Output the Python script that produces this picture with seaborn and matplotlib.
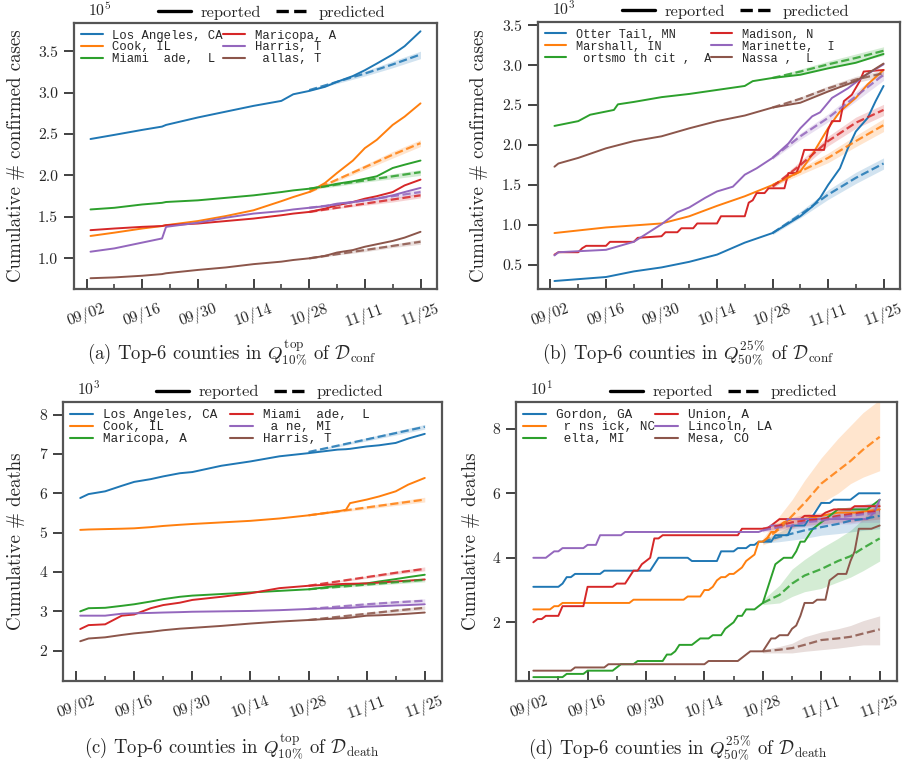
import pandas as pd
import matplotlib
matplotlib.use("Agg")
import matplotlib.pyplot as plt
import matplotlib.dates as mdates
from matplotlib.ticker import FormatStrFormatter, FixedLocator
from matplotlib.lines import Line2D
from matplotlib.font_manager import FontProperties
import seaborn as sns

YEAR = 2020
COLORS = ["#1f77b4", "#ff7f0e", "#2ca02c", "#d62728", "#9467bd", "#8c564b"]
TICK_MD = ["09/02", "09/16", "09/30", "10/14", "10/28", "11/11", "11/25"]
MINOR_MD = ["09/09", "09/23", "10/07", "10/21", "11/04", "11/18"]
PRED_MD = ["10/28", "11/04", "11/11", "11/18", "11/25"]

# ---------------- panel (a): confirmed cases, x 1e5 ----------------
A_NAMES = ["Los Angeles, CA", "Cook, IL", "Miami  ade,  L", "Maricopa, A", "Harris, T", " allas, T"]
A_DATES = ["09/03", "09/09", "09/16", "09/21", "09/22", "09/30", "10/07", "10/14", "10/21", "10/24",
           "10/28", "11/01", "11/04", "11/08", "11/11", "11/14", "11/18", "11/21", "11/25"]
A_LA = [2.44, 2.49, 2.55, 2.59, 2.61, 2.70, 2.77, 2.84, 2.90, 2.98, 3.02, 3.07, 3.13, 3.20, 3.27, 3.35, 3.46, 3.56, 3.74]
A_COOK = [1.27, 1.31, 1.36, 1.39, 1.40, 1.45, 1.51, 1.58, 1.69, 1.74, 1.80, 1.91, 2.03, 2.18, 2.33, 2.43, 2.61, 2.71, 2.87]
A_MIAMI = [1.59, 1.61, 1.65, 1.67, 1.68, 1.70, 1.73, 1.76, 1.80, 1.82, 1.84, 1.87, 1.90, 1.93, 1.96, 1.99, 2.09, 2.13, 2.18]
A_MARICOPA = [1.34, 1.36, 1.38, 1.39, 1.40, 1.42, 1.45, 1.48, 1.52, 1.54, 1.56, 1.60, 1.64, 1.68, 1.72, 1.75, 1.80, 1.88, 1.95]
A_HARRIS = [1.08, 1.12, 1.19, 1.24, 1.38, 1.43, 1.49, 1.54, 1.57, 1.59, 1.61, 1.63, 1.66, 1.68, 1.70, 1.72, 1.76, 1.80, 1.85]
A_DALLAS = [0.76, 0.77, 0.79, 0.81, 0.82, 0.86, 0.89, 0.93, 0.96, 0.98, 1.00, 1.03, 1.07, 1.10, 1.14, 1.17, 1.21, 1.25, 1.32]
A_PRED = [[3.03, 3.13, 3.23, 3.34, 3.46], [1.80, 1.95, 2.10, 2.25, 2.39], [1.84, 1.89, 1.94, 1.99, 2.04],
          [1.56, 1.61, 1.66, 1.71, 1.76], [1.61, 1.65, 1.70, 1.75, 1.80], [1.00, 1.05, 1.10, 1.15, 1.20]]
A_LO = [[3.02, 3.11, 3.20, 3.30, 3.41], [1.79, 1.93, 2.07, 2.21, 2.35], [1.83, 1.87, 1.92, 1.96, 2.00],
        [1.55, 1.60, 1.64, 1.68, 1.73], [1.60, 1.64, 1.68, 1.72, 1.77], [0.99, 1.04, 1.08, 1.13, 1.17]]
A_HI = [[3.04, 3.15, 3.26, 3.38, 3.50], [1.81, 1.97, 2.13, 2.29, 2.43], [1.85, 1.91, 1.96, 2.02, 2.07],
        [1.57, 1.62, 1.68, 1.73, 1.79], [1.62, 1.66, 1.72, 1.78, 1.83], [1.01, 1.06, 1.12, 1.17, 1.23]]

# ---------------- panel (b): confirmed cases, x 1e3 ----------------
B_NAMES = ["Otter Tail, MN", "Marshall, IN", " ortsmo th cit ,  A", "Madison, N", "Marinette,  I", "Nassa ,  L"]
B_OTTER_D = ["09/03", "09/16", "09/23", "09/30", "10/07", "10/14", "10/21", "10/28", "11/04", "11/07", "11/09",
             "11/11", "11/14", "11/16", "11/18", "11/21", "11/23", "11/25"]
B_OTTER_V = [0.30, 0.35, 0.42, 0.47, 0.54, 0.63, 0.78, 0.90, 1.11, 1.23, 1.34, 1.50, 1.71, 1.96, 2.17, 2.34, 2.55, 2.74]
B_MARSHALL_D = ["09/03", "09/16", "09/30", "10/07", "10/14", "10/21", "10/28", "11/04", "11/07", "11/11", "11/14",
                "11/18", "11/21", "11/25"]
B_MARSHALL_V = [0.90, 0.97, 1.02, 1.11, 1.24, 1.36, 1.50, 1.67, 1.88, 2.21, 2.42, 2.59, 2.76, 2.94]
B_PORTS_D = ["09/03", "09/09", "09/12", "09/16", "09/18", "09/19", "09/23", "09/30", "10/07", "10/14", "10/21",
             "10/23", "10/28", "11/04", "11/11", "11/18", "11/25"]
B_PORTS_V = [2.24, 2.30, 2.38, 2.42, 2.44, 2.51, 2.54, 2.60, 2.64, 2.69, 2.74, 2.80, 2.84, 2.88, 2.96, 3.03, 3.14]
B_MADISON_D = ["09/03", "09/04", "09/09", "09/10", "09/11", "09/16", "09/17", "09/23", "09/24", "09/30",
               "10/01", "10/04", "10/05", "10/08", "10/09", "10/14", "10/15", "10/21", "10/22", "10/23",
               "10/24", "10/26", "10/27", "10/31", "11/01", "11/03", "11/04", "11/05", "11/10", "11/11",
               "11/12", "11/14", "11/15", "11/17", "11/19", "11/20", "11/25"]
B_MADISON_V = [0.63, 0.66, 0.66, 0.71, 0.74, 0.74, 0.79, 0.79, 0.84, 0.86, 0.91, 0.91, 0.96, 0.96, 1.02,
               1.02, 1.11, 1.11, 1.28, 1.31, 1.40, 1.40, 1.46, 1.46, 1.65, 1.65, 1.77, 1.94, 1.94, 2.19,
               2.30, 2.30, 2.55, 2.63, 2.80, 2.92, 2.94]
B_MARINETTE_D = ["09/03", "09/04", "09/16", "09/23", "09/30", "10/04", "10/07", "10/11", "10/14", "10/18", "10/21",
                 "10/24", "10/28", "11/01", "11/04", "11/07", "11/09", "11/12", "11/16", "11/20", "11/25"]
B_MARINETTE_V = [0.62, 0.66, 0.69, 0.79, 1.01, 1.16, 1.22, 1.34, 1.42, 1.48, 1.63, 1.71, 1.84, 2.02, 2.21,
                 2.36, 2.41, 2.59, 2.71, 2.86, 3.01]
B_NASSAU_D = ["09/03", "09/04", "09/09", "09/16", "09/23", "09/30", "10/07", "10/14", "10/21", "10/28", "11/04",
              "11/11", "11/18", "11/25"]
B_NASSAU_V = [1.73, 1.77, 1.84, 1.96, 2.05, 2.11, 2.21, 2.30, 2.37, 2.47, 2.53, 2.67, 2.80, 3.02]
B_PRED = [[0.90, 1.13, 1.38, 1.59, 1.77], [1.50, 1.67, 1.84, 2.05, 2.25], [2.84, 2.92, 3.01, 3.09, 3.18],
          [1.48, 1.75, 2.05, 2.28, 2.44], [1.84, 2.11, 2.34, 2.61, 2.88], [2.47, 2.58, 2.71, 2.82, 2.90]]
B_LO = [[0.88, 1.09, 1.32, 1.52, 1.70], [1.48, 1.63, 1.78, 1.98, 2.17], [2.83, 2.89, 2.97, 3.04, 3.12],
        [1.46, 1.70, 1.99, 2.21, 2.37], [1.82, 2.07, 2.29, 2.55, 2.81], [2.46, 2.56, 2.68, 2.78, 2.86]]
B_HI = [[0.92, 1.17, 1.44, 1.66, 1.84], [1.52, 1.71, 1.90, 2.12, 2.33], [2.85, 2.95, 3.05, 3.14, 3.23],
        [1.50, 1.80, 2.11, 2.35, 2.51], [1.86, 2.15, 2.39, 2.67, 2.95], [2.48, 2.60, 2.74, 2.86, 2.94]]

# ---------------- panel (c): deaths, x 1e3 ----------------
C_NAMES = ["Los Angeles, CA", "Cook, IL", "Maricopa, A", "Miami  ade,  L", " a ne, MI", "Harris, T"]
C_DATES = ["09/03", "09/05", "09/09", "09/13", "09/16", "09/20", "09/23", "09/27", "09/30", "10/07", "10/14",
           "10/21", "10/28", "11/04", "11/06", "11/07", "11/11", "11/14", "11/18", "11/21", "11/25"]
C_LA = [5.88, 5.98, 6.05, 6.19, 6.29, 6.36, 6.43, 6.51, 6.54, 6.70, 6.81, 6.94, 7.02, 7.11, 7.12, 7.13, 7.19, 7.22, 7.28, 7.39, 7.51]
C_COOK = [5.07, 5.08, 5.09, 5.10, 5.11, 5.14, 5.17, 5.20, 5.22, 5.26, 5.30, 5.36, 5.44, 5.54, 5.58, 5.75, 5.84, 5.92, 6.05, 6.22, 6.39]
C_MARICOPA = [3.00, 3.08, 3.09, 3.14, 3.18, 3.25, 3.31, 3.37, 3.40, 3.44, 3.48, 3.52, 3.56, 3.65, 3.67, 3.68, 3.71, 3.76, 3.82, 3.87, 3.93]
C_MIAMI = [2.55, 2.65, 2.67, 2.89, 2.92, 3.08, 3.16, 3.22, 3.29, 3.37, 3.46, 3.59, 3.65, 3.69, 3.70, 3.70, 3.71, 3.73, 3.76, 3.78, 3.81]
C_WAYNE = [2.89, 2.89, 2.89, 2.94, 2.95, 2.96, 2.97, 2.98, 2.99, 3.00, 3.01, 3.03, 3.06, 3.08, 3.09, 3.09, 3.12, 3.13, 3.15, 3.16, 3.18]
C_HARRIS = [2.24, 2.31, 2.34, 2.40, 2.44, 2.48, 2.52, 2.56, 2.58, 2.63, 2.69, 2.74, 2.78, 2.82, 2.83, 2.84, 2.89, 2.90, 2.92, 2.94, 2.97]
C_PRED = [[7.05, 7.21, 7.37, 7.53, 7.69], [5.44, 5.54, 5.64, 5.74, 5.84], [3.56, 3.62, 3.68, 3.74, 3.80],
          [3.65, 3.76, 3.87, 3.98, 4.08], [3.06, 3.12, 3.18, 3.23, 3.27], [2.78, 2.86, 2.94, 3.02, 3.09]]
C_LO = [[7.04, 7.18, 7.33, 7.48, 7.63], [5.43, 5.51, 5.60, 5.69, 5.78], [3.55, 3.60, 3.65, 3.70, 3.75],
        [3.64, 3.74, 3.84, 3.94, 4.03], [3.05, 3.10, 3.15, 3.19, 3.22], [2.77, 2.84, 2.91, 2.98, 3.04]]
C_HI = [[7.06, 7.24, 7.41, 7.58, 7.75], [5.45, 5.57, 5.68, 5.79, 5.90], [3.57, 3.64, 3.71, 3.78, 3.85],
        [3.66, 3.78, 3.90, 4.02, 4.13], [3.07, 3.14, 3.21, 3.27, 3.32], [2.79, 2.88, 2.97, 3.06, 3.14]]

# ---------------- panel (d): deaths, x 1e1 (time = days after 09/02) ----------------
D_NAMES = ["Gordon, GA", " r ns ick, NC", " elta, MI", "Union, A", "Lincoln, LA", "Mesa, CO"]
D_GORDON_T = [1, 7, 8, 9, 10, 11, 17, 18, 29, 30, 31, 38, 39, 45, 46, 49, 50, 52, 53, 54, 55, 58, 59, 62, 63, 66,
              67, 68, 69, 70, 72, 73, 77, 78, 79, 84]
D_GORDON_V = [3.1, 3.1, 3.2, 3.4, 3.4, 3.5, 3.5, 3.6, 3.6, 3.8, 4.0, 4.0, 3.9, 3.9, 4.2, 4.2, 4.3, 4.3, 4.4, 4.4,
              4.5, 4.5, 4.7, 4.7, 5.0, 5.0, 5.2, 5.3, 5.5, 5.7, 5.7, 5.8, 5.8, 5.9, 6.0, 6.0]
D_BRUNS_T = [1, 5, 6, 7, 8, 24, 25, 37, 38, 41, 42, 43, 44, 45, 46, 47, 48, 49, 50, 51, 52, 53, 54, 55, 56, 57,
             58, 59, 60, 61, 63, 66, 70, 74, 78, 84]
D_BRUNS_V = [2.4, 2.4, 2.5, 2.5, 2.6, 2.6, 2.7, 2.7, 2.8, 2.8, 3.0, 3.0, 3.1, 3.3, 3.4, 3.4, 3.5, 3.5, 3.6, 3.7,
             3.9, 4.0, 4.1, 4.5, 4.5, 4.6, 4.8, 4.8, 5.0, 5.1, 5.2, 5.2, 5.3, 5.4, 5.4, 5.5]
D_DELTA_T = [1, 8, 9, 13, 14, 20, 21, 22, 25, 26, 32, 33, 34, 35, 36, 39, 40, 41, 43, 44, 46, 47, 48, 49, 50, 51,
             52, 54, 55, 56, 57, 58, 59, 60, 61, 63, 64, 65, 66, 68, 69, 70, 71, 73, 74, 81, 82, 84]
D_DELTA_V = [0.3, 0.3, 0.4, 0.4, 0.5, 0.5, 0.6, 0.7, 0.7, 0.8, 0.8, 1.0, 1.0, 1.1, 1.3, 1.3, 1.4, 1.5, 1.5, 1.6,
             1.6, 1.8, 1.9, 2.0, 2.2, 2.2, 2.4, 2.4, 2.5, 2.6, 3.0, 3.4, 3.8, 3.9, 4.0, 4.0, 4.2, 4.5, 4.5, 4.9,
             5.0, 5.1, 5.2, 5.4, 5.5, 5.5, 5.6, 5.8]
D_UNION_T = [1, 2, 3, 4, 7, 8, 13, 14, 20, 21, 23, 24, 25, 26, 27, 28, 29, 30, 31, 32, 50, 51, 57, 58, 60, 65, 66,
             70, 71, 73, 77, 78, 84]
D_UNION_V = [2.0, 2.1, 2.1, 2.2, 2.2, 2.5, 2.5, 3.1, 3.1, 3.2, 3.2, 3.4, 3.6, 3.6, 3.8, 3.9, 4.0, 4.6, 4.6, 4.7,
             4.7, 4.9, 4.9, 5.0, 5.2, 5.2, 5.3, 5.3, 5.4, 5.5, 5.5, 5.6, 5.6]
D_LINCOLN_T = [1, 4, 5, 6, 7, 8, 13, 14, 16, 17, 22, 23, 55, 57, 58, 61, 62, 81, 82, 83, 84]
D_LINCOLN_V = [4.0, 4.0, 4.1, 4.2, 4.2, 4.3, 4.3, 4.4, 4.4, 4.7, 4.7, 4.8, 4.8, 4.9, 5.0, 5.0, 5.2, 5.2, 5.3, 5.5, 5.8]
D_MESA_T = [1, 10, 11, 18, 19, 42, 43, 50, 51, 52, 53, 56, 57, 58, 59, 60, 62, 63, 64, 65, 66, 68, 69, 71, 72,
            73, 74, 76, 77, 78, 79, 82, 84]
D_MESA_V = [0.5, 0.5, 0.6, 0.6, 0.7, 0.7, 0.8, 0.8, 0.9, 1.0, 1.1, 1.1, 1.3, 1.5, 1.5, 1.6, 1.6, 1.8, 1.9, 2.2,
            2.6, 2.6, 2.7, 2.7, 3.3, 3.4, 3.5, 3.5, 3.9, 4.2, 4.9, 4.9, 5.0]
D_PRED_T = [56, 60, 63, 66, 70, 74, 77, 80, 84]
D_PRED = [[4.5, 4.65, 4.75, 4.85, 4.95, 5.05, 5.15, 5.2, 5.3],
          [4.5, 4.9, 5.3, 5.7, 6.3, 6.7, 7.0, 7.35, 7.75],
          [2.6, 2.85, 3.2, 3.45, 3.65, 3.9, 4.05, 4.3, 4.6],
          [4.9, 5.0, 5.1, 5.15, 5.2, 5.3, 5.35, 5.4, 5.45],
          [4.85, 4.95, 5.0, 5.1, 5.15, 5.25, 5.3, 5.35, 5.4],
          [1.1, 1.15, 1.2, 1.3, 1.45, 1.5, 1.55, 1.65, 1.78]]
D_LO = [[4.45, 4.5, 4.55, 4.6, 4.7, 4.75, 4.8, 4.85, 4.9],
        [4.4, 4.6, 4.9, 5.2, 5.7, 6.0, 6.3, 6.5, 6.7],
        [2.55, 2.6, 2.8, 2.95, 3.05, 3.25, 3.4, 3.6, 3.9],
        [4.85, 4.9, 4.95, 5.0, 5.05, 5.1, 5.1, 5.15, 5.2],
        [4.8, 4.85, 4.9, 4.95, 5.0, 5.05, 5.05, 5.1, 5.1],
        [1.05, 1.05, 1.05, 1.1, 1.15, 1.2, 1.25, 1.3, 1.3]]
D_HI = [[4.55, 4.8, 5.0, 5.15, 5.3, 5.45, 5.55, 5.65, 5.75],
        [4.6, 5.3, 5.8, 6.4, 7.1, 7.7, 8.1, 8.5, 8.9],
        [2.7, 3.15, 3.65, 3.95, 4.3, 4.6, 4.85, 5.2, 5.8],
        [4.95, 5.1, 5.25, 5.35, 5.4, 5.5, 5.6, 5.65, 5.7],
        [4.9, 5.05, 5.15, 5.25, 5.35, 5.45, 5.55, 5.6, 5.7],
        [1.15, 1.25, 1.35, 1.55, 1.7, 1.8, 1.9, 2.05, 2.2]]


def md(lst):
    return pd.to_datetime([f"{YEAR}/{s}" for s in lst], format="%Y/%m/%d")


def days(lst):
    return pd.Timestamp(f"{YEAR}-09-02") + pd.to_timedelta(lst, unit="D")


sns.set_theme(style="ticks")
plt.rcParams.update({
    "font.family": "cmr10",
    "mathtext.fontset": "cm",
    "axes.unicode_minus": False,
    "axes.formatter.use_mathtext": True,
})

SPINE = "#555555"
fig = plt.figure(figsize=(9.04, 7.62), dpi=100)
W, H = 904, 762


def add_axes(l, t, r, b):
    return fig.add_axes([l / W, 1 - b / H, (r - l) / W, (b - t) / H])


def draw(ax, names, rep, pred_dates, pred, lo, hi, ylim, yticks, fmt, exp, ylabel, ylab_x, legsize, colsp, lsp):
    rows = []
    for name, (d, v) in zip(names, rep):
        rows.append(pd.DataFrame({"date": d, "value": v, "county": name}))
    df = pd.concat(rows, ignore_index=True)
    prow = []
    for name, p in zip(names, pred):
        prow.append(pd.DataFrame({"date": pred_dates, "value": p, "county": name}))
    pdf = pd.concat(prow, ignore_index=True)
    for c, l, h in zip(COLORS, lo, hi):
        ax.fill_between(pred_dates, l, h, color=c, alpha=0.2, lw=0, zorder=1)
    sns.lineplot(data=df, x="date", y="value", hue="county", hue_order=names, palette=COLORS,
                 estimator=None, errorbar=None, lw=1.4, ax=ax, legend=False, zorder=2)
    sns.lineplot(data=pdf, x="date", y="value", hue="county", hue_order=names, palette=COLORS,
                 estimator=None, errorbar=None, lw=1.6, linestyle="--", alpha=0.85, ax=ax, legend=False, zorder=3)
    ax.set_ylim(*ylim)
    ax.set_yticks(yticks)
    ax.yaxis.set_major_formatter(FormatStrFormatter(fmt))
    ax.xaxis.set_major_locator(FixedLocator(mdates.date2num(md(TICK_MD))))
    ax.xaxis.set_minor_locator(FixedLocator(mdates.date2num(md(MINOR_MD))))
    ax.xaxis.set_major_formatter(mdates.DateFormatter("%m/%d"))
    ax.set_xlabel("")
    ax.set_ylabel(ylabel, fontsize=13.6)
    ax.yaxis.set_label_coords(ylab_x, 0.5)
    for sp in ax.spines.values():
        sp.set_visible(True)
        sp.set_linewidth(1.6)
        sp.set_color(SPINE)
    ax.tick_params(axis="x", which="major", direction="in", length=7.5, width=1.3, color="#333333",
                   pad=9, labelsize=11.3, labelrotation=20)
    ax.tick_params(axis="x", which="minor", direction="in", length=3.8, width=1.1, color="#333333")
    ax.tick_params(axis="y", which="major", direction="out", length=7.5, width=1.3, color="#333333",
                   pad=4, labelsize=11.3)
    for t in ax.get_xticklabels():
        t.set_ha("center")
    handles = [Line2D([], [], color=c, lw=1.5) for c in COLORS]
    ax.legend(handles, names, loc="upper left", ncol=2, frameon=False,
              prop=FontProperties(family="Liberation Mono", size=legsize),
              handlelength=1.8, handletextpad=0.8, columnspacing=colsp, labelspacing=lsp,
              borderaxespad=0.25, borderpad=0.3)
    top = [Line2D([], [], color="black", lw=2.4), Line2D([], [], color="black", lw=2.4, ls="--")]
    hpx = ax.get_position().height * H
    fig.legend(top, ["reported", "predicted"], loc="center", bbox_to_anchor=(0.545, 1 + 10 / hpx),
               bbox_transform=ax.transAxes, ncol=2, frameon=False, fontsize=11.8,
               handlelength=2.0, handletextpad=0.6, columnspacing=0.9)
    ax.annotate(exp, xy=(0, 1), xycoords="axes fraction", xytext=(14, 4), textcoords="offset pixels",
                ha="left", va="bottom", fontsize=11.3)


axA = add_axes(74, 23, 437, 289)
axB = add_axes(538, 22, 900, 289)
axC = add_axes(63, 402, 442, 681)
axD = add_axes(516, 402, 897, 681)

pA = md(PRED_MD)
draw(axA, A_NAMES,
     [(md(A_DATES), v) for v in [A_LA, A_COOK, A_MIAMI, A_MARICOPA, A_HARRIS, A_DALLAS]],
     pA, A_PRED, A_LO, A_HI, (0.63, 3.84), [1.0, 1.5, 2.0, 2.5, 3.0, 3.5], "%.1f", r"$10^5$",
     "Cumulative # confirmed cases", -0.135, 8.8, 0.0, -0.02)
draw(axB, B_NAMES,
     [(md(B_OTTER_D), B_OTTER_V), (md(B_MARSHALL_D), B_MARSHALL_V), (md(B_PORTS_D), B_PORTS_V),
      (md(B_MADISON_D), B_MADISON_V), (md(B_MARINETTE_D), B_MARINETTE_V), (md(B_NASSAU_D), B_NASSAU_V)],
     pA, B_PRED, B_LO, B_HI, (0.2, 3.54), [0.5, 1.0, 1.5, 2.0, 2.5, 3.0, 3.5], "%.1f", r"$10^3$",
     "Cumulative # confirmed cases", -0.138, 8.6, 0.0, 0.0)
draw(axC, C_NAMES,
     [(md(C_DATES), v) for v in [C_LA, C_COOK, C_MARICOPA, C_MIAMI, C_WAYNE, C_HARRIS]],
     pA, C_PRED, C_LO, C_HI, (1.23, 8.32), [2, 3, 4, 5, 6, 7, 8], "%d", r"$10^3$",
     "Cumulative # deaths", -0.100, 9.1, 1.0, 0.02)
draw(axD, D_NAMES,
     [(days(D_GORDON_T), D_GORDON_V), (days(D_BRUNS_T), D_BRUNS_V), (days(D_DELTA_T), D_DELTA_V),
      (days(D_UNION_T), D_UNION_V), (days(D_LINCOLN_T), D_LINCOLN_V), (days(D_MESA_T), D_MESA_V)],
     days(D_PRED_T), D_PRED, D_LO, D_HI, (0.18, 8.83), [2, 4, 6, 8], "%d", r"$10^1$",
     "Cumulative # deaths", -0.095, 9.1, 0.0, 0.0)

CAPS = [
    (232, 352, r"(a) Top-6 counties in $Q^{\mathrm{top}}_{10\%}$ of $\mathcal{D}_{\mathrm{conf}}$"),
    (688, 352, r"(b) Top-6 counties in $Q^{25\%}_{50\%}$ of $\mathcal{D}_{\mathrm{conf}}$"),
    (232, 746, r"(c) Top-6 counties in $Q^{\mathrm{top}}_{10\%}$ of $\mathcal{D}_{\mathrm{death}}$"),
    (678, 747, r"(d) Top-6 counties in $Q^{25\%}_{50\%}$ of $\mathcal{D}_{\mathrm{death}}$"),
]
for x, y, s in CAPS:
    fig.text(x / W, 1 - y / H, s, ha="center", va="center", fontsize=13.5)

fig.savefig("out.png", dpi=100)
